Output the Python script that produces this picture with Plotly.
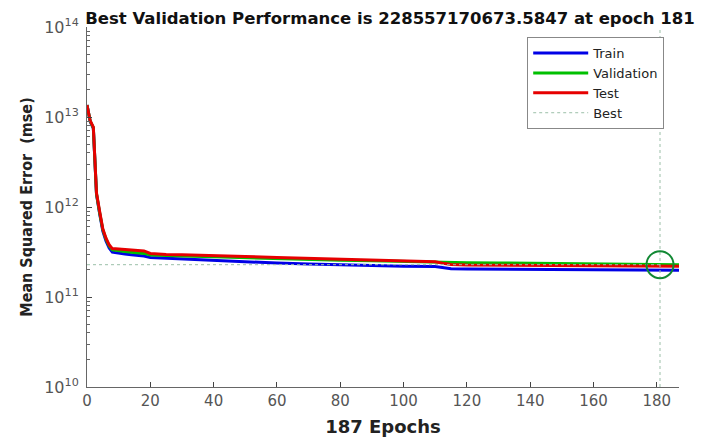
import plotly.graph_objects as go

epochs = [0, 1, 2, 3, 4, 5, 6, 7, 8, 10, 12, 14, 16, 18, 20, 25, 30, 40, 50, 60, 70, 80,
          90, 100, 110, 113, 115, 120, 130, 140, 150, 160, 170, 180, 187]
train = [1.36e13, 8.9e12, 7.5e12, 1.38e12, 8.4e11, 5.4e11, 4.2e11, 3.5e11, 3.15e11, 3.05e11,
         3.0e11, 2.95e11, 2.9e11, 2.85e11, 2.75e11, 2.7e11, 2.65e11, 2.55e11, 2.45e11, 2.38e11,
         2.32e11, 2.27e11, 2.24e11, 2.2e11, 2.18e11, 2.1e11, 2.06e11, 2.05e11, 2.04e11, 2.03e11,
         2.02e11, 2.01e11, 2.0e11, 1.99e11, 1.98e11]
validation = [1.36e13, 9.0e12, 7.6e12, 1.4e12, 8.6e11, 5.6e11, 4.4e11, 3.7e11, 3.35e11, 3.25e11,
              3.2e11, 3.15e11, 3.1e11, 3.05e11, 2.92e11, 2.87e11, 2.85e11, 2.8e11, 2.73e11, 2.67e11,
              2.6e11, 2.56e11, 2.53e11, 2.48e11, 2.44e11, 2.4e11, 2.4e11, 2.4e11, 2.39e11, 2.37e11,
              2.35e11, 2.33e11, 2.31e11, 2.2856e11, 2.28e11]
test = [1.36e13, 9.1e12, 7.7e12, 1.43e12, 8.9e11, 5.7e11, 4.5e11, 3.8e11, 3.45e11, 3.4e11,
        3.35e11, 3.33e11, 3.3e11, 3.25e11, 3.05e11, 2.97e11, 2.95e11, 2.9e11, 2.82e11, 2.75e11,
        2.68e11, 2.63e11, 2.58e11, 2.5e11, 2.46e11, 2.35e11, 2.3e11, 2.27e11, 2.26e11, 2.25e11,
        2.24e11, 2.23e11, 2.22e11, 2.2e11, 2.2e11]

best_epoch = 181
best_value = 228557170673.5847
total_epochs = 187

y_tickvals = [1e10, 1e11, 1e12, 1e13, 1e14]
y_ticktext = ["10<sup>10</sup>", "10<sup>11</sup>", "10<sup>12</sup>", "10<sup>13</sup>", "10<sup>14</sup>"]
x_tickvals = [0, 20, 40, 60, 80, 100, 120, 140, 160, 180]

minor_vals = [m * 10 ** e for e in range(10, 14) for m in range(2, 10)]

fig = go.Figure()
fig.add_trace(go.Scatter(x=epochs, y=train, mode="lines", name="Train",
                         line=dict(color="#0000e6", width=3)))
fig.add_trace(go.Scatter(x=epochs, y=validation, mode="lines", name="Validation",
                         line=dict(color="#00c000", width=3)))
fig.add_trace(go.Scatter(x=epochs, y=test, mode="lines", name="Test",
                         line=dict(color="#e60000", width=3)))
fig.add_trace(go.Scatter(x=[best_epoch, best_epoch, None, 0, best_epoch],
                         y=[1e10, 1e14, None, best_value, best_value],
                         mode="lines", name="Best",
                         line=dict(color="#9bbfa8", width=1, dash="dot")))
fig.add_trace(go.Scatter(x=[best_epoch], y=[best_value], mode="markers", showlegend=False,
                         marker=dict(symbol="circle-open", size=27, color="#118833",
                                     line=dict(width=2, color="#118833"))))

# page body has an 8px margin: figure is 707x429 placed at (8, 8)
fig.update_layout(
    width=707, height=429,
    margin=dict(l=79, r=36, t=19, b=50),
    paper_bgcolor="white", plot_bgcolor="white",
    font=dict(family="DejaVu Sans, sans-serif", color="#444"),
    title=dict(text=f"<b>Best Validation Performance is {best_value:.4f} at epoch {best_epoch}</b>",
               x=382 / 707, xanchor="center", y=1 - 10.5 / 429, yanchor="middle",
               font=dict(size=16.5, color="#111")),
    showlegend=True,
    legend=dict(x=0.975, y=0.972, xanchor="right", yanchor="top",
                bgcolor="white", bordercolor="#888", borderwidth=1, itemwidth=55,
                font=dict(size=13, color="#222"), tracegroupgap=0),
    xaxis=dict(range=[0, total_epochs], tickvals=x_tickvals, ticks="inside", ticklen=5,
               automargin=False,
               showline=True, linecolor="#666", linewidth=1, showgrid=False, zeroline=False,
               tickfont=dict(size=15, color="#555"),
               title=dict(text=f"<b>{total_epochs} Epochs</b>", font=dict(size=18, color="#222"),
                          standoff=18)),
    yaxis=dict(type="log", range=[10, 14], tickvals=y_tickvals, ticktext=y_ticktext,
               automargin=False, ticklabelstandoff=4,
               ticks="inside", ticklen=5, showline=True, linecolor="#666", linewidth=1,
               showgrid=False, zeroline=False, tickfont=dict(size=16, color="#555"),
               minor=dict(tickvals=minor_vals, ticks="inside", ticklen=3, tickcolor="#666"),
               title=dict(text="<b>Mean Squared Error  (mse)</b>",
                          font=dict(size=16, color="#222",
                                    family="DejaVu Sans Condensed, DejaVu Sans, sans-serif"),
                          standoff=7)),
)

fig.write_html("out.html")
